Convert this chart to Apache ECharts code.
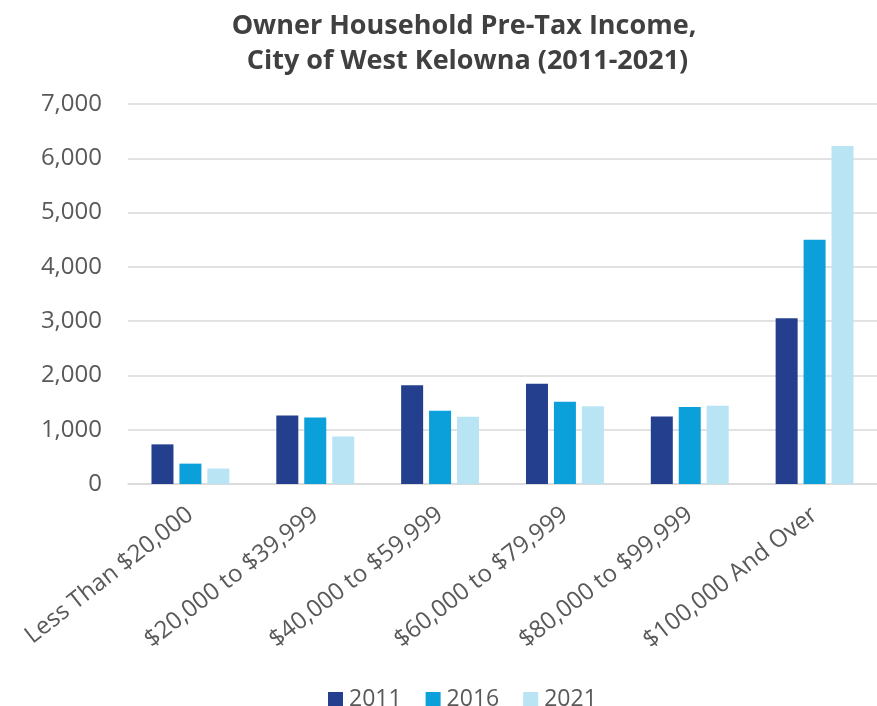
<!DOCTYPE html>
<html>
<head>
<meta charset="utf-8">
<title>Owner Household Pre-Tax Income, City of West Kelowna (2011-2021)</title>
<script src="https://cdn.jsdelivr.net/npm/echarts@6/dist/echarts.min.js"></script>
<style>
  html, body { margin: 0; padding: 0; background: #ffffff; overflow: hidden; }
  #chart { width: 877px; height: 706px; }
</style>
</head>
<body>
<div id="chart"></div>
<script>
// Income brackets along the x axis
const categories = [
  'Less Than $20,000',
  '$20,000 to $39,999',
  '$40,000 to $59,999',
  '$60,000 to $79,999',
  '$80,000 to $99,999',
  '$100,000 And Over'
];

// Owner households per bracket, by census year
const households2011 = [730, 1260, 1820, 1845, 1245, 3055];
const households2016 = [375, 1225, 1350, 1515, 1420, 4500];
const households2021 = [285, 875, 1240, 1430, 1440, 6225];

const yearNames = ['2011', '2016', '2021'];
const yearColors = ['#243F8E', '#0BA0D9', '#B8E4F4'];

// y axis range and step
const yMin = 0;
const yMax = 7000;
const yStep = 1000;

const textColor = '#595959';
const fontFamily = '"Open Sans", "Noto Sans", sans-serif';

const chart = echarts.init(document.getElementById('chart'), null, { renderer: 'canvas' });

const seriesData = [households2011, households2016, households2021];

chart.setOption({
  animation: false,
  backgroundColor: '#ffffff',
  title: {
    text: 'Owner Household Pre-Tax Income,\n City of West Kelowna (2011-2021)',
    left: 459,
    top: 4,
    textAlign: 'center',
    textStyle: {
      fontFamily: fontFamily,
      fontWeight: 'bold',
      fontSize: 27,
      lineHeight: 35,
      color: '#404040'
    }
  },
  legend: {
    data: yearNames,
    left: 323,
    top: 683,
    itemWidth: 15,
    itemHeight: 15,
    itemGap: 24,
    icon: 'rect',
    textStyle: {
      fontFamily: fontFamily,
      fontSize: 23,
      color: textColor,
      padding: [0, 0, 0, 1]
    }
  },
  grid: {
    left: 128,
    right: -3,
    top: 104,
    bottom: 222,
    containLabel: false
  },
  xAxis: {
    type: 'category',
    data: categories,
    axisTick: { show: false },
    axisLine: { show: true, lineStyle: { color: '#d9d9d9', width: 1.5 } },
    axisLabel: {
      interval: 0,
      rotate: 38,
      margin: 28,
      fontFamily: fontFamily,
      fontSize: 24,
      color: textColor
    }
  },
  yAxis: {
    type: 'value',
    min: yMin,
    max: yMax,
    interval: yStep,
    axisLine: { show: false },
    axisTick: { show: false },
    splitLine: { lineStyle: { color: '#d9d9d9', width: 1.5 } },
    axisLabel: {
      margin: 26,
      fontFamily: fontFamily,
      fontSize: 24,
      color: textColor,
      formatter: function (v) { return v.toLocaleString('en-US'); }
    }
  },
  series: yearNames.map(function (name, i) {
    return {
      name: name,
      type: 'bar',
      data: seriesData[i],
      barWidth: 22,
      barGap: '27%',
      itemStyle: { color: yearColors[i] }
    };
  })
});
</script>
</body>
</html>
